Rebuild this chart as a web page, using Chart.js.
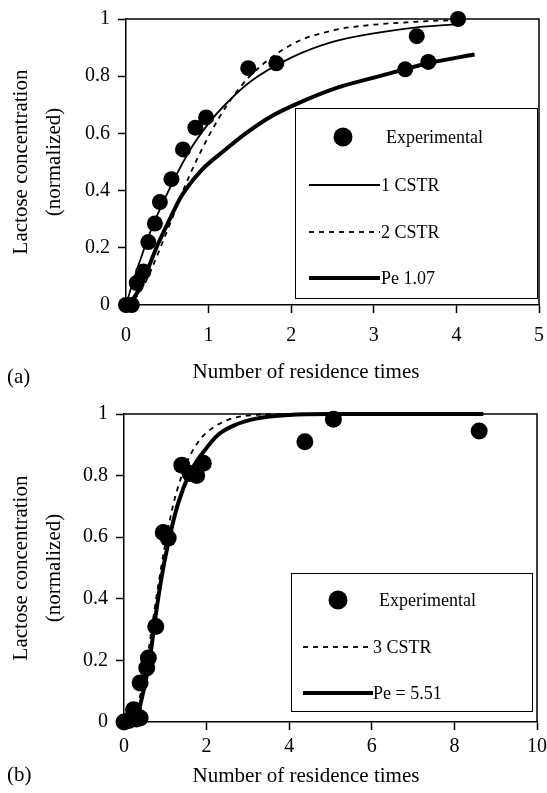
<!DOCTYPE html>
<html>
<head>
<meta charset="utf-8">
<script src="https://cdn.jsdelivr.net/npm/chart.js@4.4.1/dist/chart.umd.min.js"></script>
<style>
  body { margin: 0; background: #fff; }
  canvas { display: block; }
</style>
</head>
<body>
<canvas id="chartA" width="547" height="400"></canvas>
<canvas id="chartB" width="547" height="393"></canvas>
<script>
// (a) experimental points and model curves
const expTimesA = [0, 0.07, 0.13, 0.21, 0.27, 0.35, 0.41, 0.55, 0.69, 0.84, 0.97, 1.48, 1.82, 3.38, 3.52, 3.66, 4.02];
const expValsA  = [0, 0, 0.077, 0.117, 0.22, 0.285, 0.36, 0.44, 0.544, 0.62, 0.656, 0.828, 0.845, 0.824, 0.94, 0.85, 1.0];

const cstr1TimesA = [0, 0.1, 0.2, 0.3, 0.5, 0.75, 1, 1.25, 1.5, 2, 2.5, 3, 3.5, 4.02];
const cstr1ValsA  = [0, 0.095, 0.18, 0.26, 0.39, 0.53, 0.635, 0.715, 0.78, 0.865, 0.92, 0.95, 0.97, 0.982];

const cstr2TimesA = [0, 0.1, 0.2, 0.3, 0.5, 0.75, 1, 1.25, 1.5, 2, 2.5, 3, 3.5, 4.02];
const cstr2ValsA  = [0, 0.02, 0.06, 0.12, 0.26, 0.44, 0.59, 0.71, 0.80, 0.91, 0.96, 0.98, 0.99, 0.997];

const peTimesA = [0, 0.05, 0.15, 0.27, 0.39, 0.53, 0.67, 0.91, 1.19, 1.45, 1.76, 2.04, 2.56, 3.0, 3.36, 3.68, 4.22];
const peValsA  = [0, 0.01, 0.05, 0.13, 0.215, 0.30, 0.38, 0.47, 0.54, 0.60, 0.66, 0.70, 0.76, 0.795, 0.823, 0.847, 0.876];

// (b)
const expTimesB = [0, 0.12, 0.23, 0.3, 0.39, 0.39, 0.55, 0.59, 0.77, 0.95, 1.07, 1.40, 1.60, 1.76, 1.92, 4.38, 5.07, 8.6];
const expValsB  = [0, 0.005, 0.04, 0.01, 0.013, 0.127, 0.175, 0.208, 0.31, 0.615, 0.597, 0.834, 0.807, 0.80, 0.84, 0.91, 0.983, 0.945];

const cstr3TimesB = [0, 0.2, 0.4, 0.6, 0.8, 1.0, 1.2, 1.4, 1.6, 1.8, 2.0, 2.5, 3.0, 4.0, 6.0, 8.7];
const cstr3ValsB  = [0, 0.02, 0.09, 0.24, 0.42, 0.58, 0.71, 0.80, 0.865, 0.91, 0.94, 0.98, 0.995, 1, 1, 1];

const peTimesB = [0.1, 0.27, 0.47, 0.63, 0.75, 0.91, 1.07, 1.31, 1.6, 2.0, 2.3, 2.7, 3.2, 4.0, 5.0, 8.7];
const peValsB  = [0, 0.006, 0.10, 0.21, 0.33, 0.47, 0.58, 0.71, 0.81, 0.89, 0.935, 0.965, 0.985, 0.997, 1, 1];

const yTitle = ['Lactose concentration', '(normalized)'];
const xTitle = 'Number of residence times';

const SERIF = '"Liberation Serif", "Times New Roman", serif';
Chart.defaults.font.family = SERIF;
Chart.defaults.color = '#000';

function pts(xs, ys) {
    return xs.map((x, i) => ({ x: x, y: ys[i] }));
}

function pointSet(label, xs, ys, r) {
    return {
        label: label, data: pts(xs, ys), showLine: false,
        pointRadius: r, pointHoverRadius: r, pointBackgroundColor: '#000',
        pointBorderWidth: 0, clip: false
    };
}

function lineSet(label, xs, ys, width, dash) {
    return {
        label: label, data: pts(xs, ys), showLine: true, pointRadius: 0,
        borderColor: '#000', borderWidth: width, borderDash: dash || [],
        cubicInterpolationMode: 'monotone', clip: false, fill: false
    };
}

// box on top/right, legend, x title and panel letter
const extrasPlugin = {
    id: 'extras',
    afterDraw(chart, args, o) {
        const ctx = chart.ctx;
        const a = chart.chartArea;
        ctx.save();
        ctx.strokeStyle = '#000';
        ctx.lineWidth = 1.5;
        ctx.beginPath();
        ctx.moveTo(a.left, a.top);
        ctx.lineTo(a.right, a.top);
        ctx.lineTo(a.right, a.bottom);
        ctx.stroke();

        const b = o.box;
        ctx.fillStyle = '#fff';
        ctx.fillRect(b[0], b[1], b[2], b[3]);
        ctx.lineWidth = 1;
        ctx.strokeRect(b[0] + 0.5, b[1] + 0.5, b[2], b[3]);

        ctx.fillStyle = '#000';
        ctx.font = '18px ' + SERIF;
        ctx.textBaseline = 'middle';
        ctx.textAlign = 'left';
        chart.data.datasets.forEach((ds, i) => {
            const y = o.rows[i];
            if (ds.showLine) {
                ctx.lineWidth = ds.borderWidth;
                ctx.setLineDash(ds.borderDash);
                ctx.beginPath();
                ctx.moveTo(o.lineX[0], y);
                ctx.lineTo(o.lineX[1], y);
                ctx.stroke();
                ctx.setLineDash([]);
                ctx.fillText(ds.label, o.lineText, y + 1);
            } else {
                ctx.beginPath();
                ctx.arc(o.markX, y, o.markR, 0, Math.PI * 2);
                ctx.fill();
                ctx.fillText(ds.label, o.markText, y + 1);
            }
        });

        ctx.font = '21px ' + SERIF;
        ctx.textAlign = 'center';
        ctx.fillText(chart.options.scales.x.title.text, o.titleX, o.titleY);
        ctx.textAlign = 'left';
        ctx.fillText(o.panel, o.panelX, o.panelY);
        ctx.restore();
    }
};

function makeChart(id, datasets, cfg) {
    return new Chart(document.getElementById(id), {
        type: 'scatter',
        data: { datasets: datasets },
        plugins: [extrasPlugin],
        options: {
            responsive: false,
            animation: false,
            layout: { padding: { top: cfg.padTop, right: cfg.padRight, left: 0, bottom: 0 } },
            plugins: {
                legend: { display: false },
                tooltip: { enabled: false },
                extras: cfg.extras
            },
            scales: {
                x: {
                    type: 'linear', min: 0, max: cfg.xMax,
                    afterFit: s => {
                        s.height = cfg.xHeight;
                        s.paddingLeft = 0;
                        s.paddingRight = 0;
                    },
                    ticks: { stepSize: cfg.xStep, color: '#000', padding: cfg.xTickPad,
                             font: { family: SERIF, size: 20 }, maxRotation: 0 },
                    grid: { drawOnChartArea: false, drawTicks: true, tickLength: 8, tickColor: '#000', tickWidth: 1.5 },
                    border: { color: '#000', width: 1.5 },
                    title: { display: false, text: xTitle }
                },
                y: {
                    type: 'linear', min: 0, max: 1,
                    afterFit: s => {
                        s.width = cfg.yWidth;
                        s.paddingTop = 0;
                        s.paddingBottom = 0;
                    },
                    ticks: { stepSize: 0.2, color: '#000', padding: 8,
                             font: { family: SERIF, size: 20 },
                             callback: v => String(Number(v.toFixed(1))) },
                    grid: { drawOnChartArea: false, drawTicks: true, tickLength: 8, tickColor: '#000', tickWidth: 1.5 },
                    border: { color: '#000', width: 1.5 },
                    title: { display: true, text: yTitle, color: '#000',
                             font: { family: SERIF, size: 21, lineHeight: '33px' },
                             padding: { top: 5, bottom: 0 } }
                }
            }
        }
    });
}

makeChart('chartA', [
    pointSet('Experimental', expTimesA, expValsA, 8),
    lineSet('1 CSTR', cstr1TimesA, cstr1ValsA, 1.8),
    lineSet('2 CSTR', cstr2TimesA, cstr2ValsA, 1.8, [5, 5]),
    lineSet('Pe 1.07', peTimesA, peValsA, 4)
], {
    padTop: 19, padRight: 4, xMax: 5, xStep: 1, xHeight: 95, yWidth: 126, xTickPad: 11,
    extras: {
        box: [295, 108, 242, 190], rows: [137, 185, 232, 278],
        markX: 343, markR: 9.5, markText: 386, lineX: [309, 380], lineText: 381,
        titleX: 306, titleY: 372, panel: '(a)', panelX: 7, panelY: 377
    }
});

makeChart('chartB', [
    pointSet('Experimental', expTimesB, expValsB, 8.5),
    lineSet('3 CSTR', cstr3TimesB, cstr3ValsB, 1.8, [5, 5]),
    lineSet('Pe = 5.51', peTimesB, peValsB, 4)
], {
    padTop: 14, padRight: 10, xMax: 10, xStep: 2, xHeight: 71, yWidth: 124, xTickPad: 5,
    extras: {
        box: [291, 173, 241, 138], rows: [200, 247, 293],
        markX: 338, markR: 9.5, markText: 379, lineX: [303, 373], lineText: 373,
        titleX: 306, titleY: 376, panel: '(b)', panelX: 7, panelY: 375
    }
});
</script>
</body>
</html>
